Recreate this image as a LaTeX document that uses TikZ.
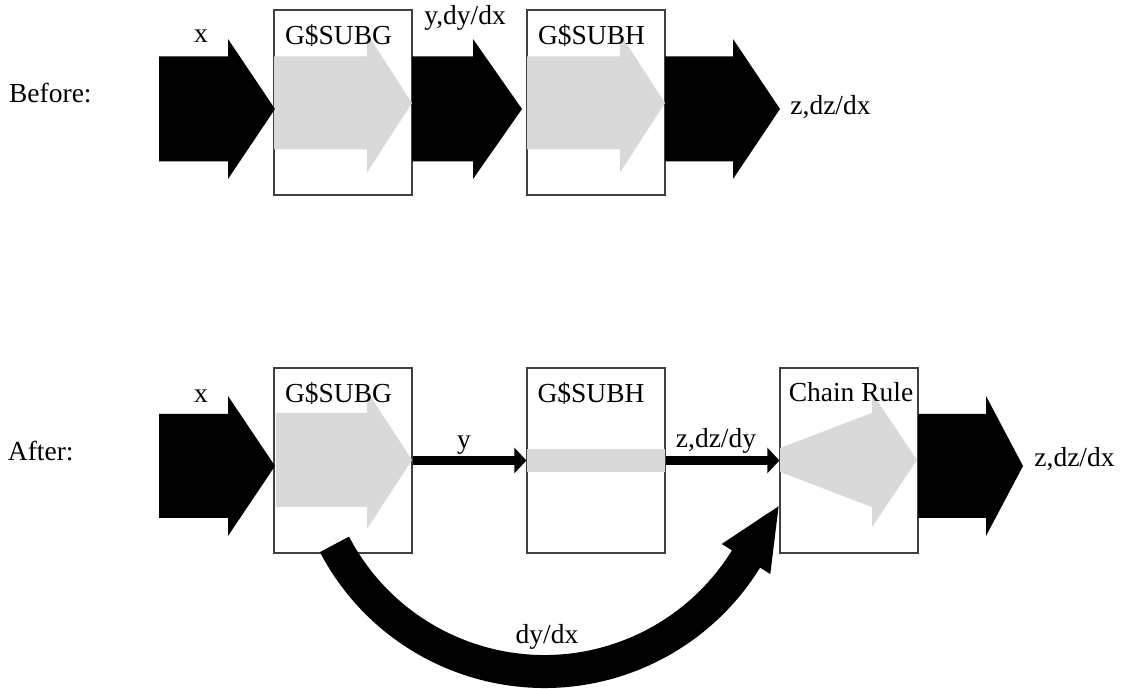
\documentclass[tikz,border=0pt]{standalone}
\usepackage{fontspec}
\setmainfont{Liberation Serif}
\usetikzlibrary{arrows.meta}
\definecolor{lgray}{RGB}{217,217,217}
\begin{document}
\begin{tikzpicture}[x=0.5pt,y=0.5pt,
  box/.style={draw=black!75, line width=0.6pt, fill=white, minimum width=69pt, minimum height=92.5pt, inner sep=0pt},
  lbl/.style={font=\fontsize{13.75}{16}\selectfont, inner sep=0pt, anchor=base},
  blk/.style={fill=black},
  gry/.style={fill=lgray},
  thinarr/.style={line width=4.5pt, -{Triangle[length=6pt,width=12.5pt]}},
  bigarc/.style={line width=16.5pt}
]
\useasboundingbox (0,0) rectangle (1127,689);

% boxes
\node[box] (g1) at (343,586.5) {};
\node[box] (h1) at (596,586.5) {};
\node[box] (g2) at (343,228.5) {};
\node[box] (h2) at (596,228.5) {};
\node[box] (c2) at (849,228.5) {};

% ---- Before row ----
\fill[gry] (274,632.5) -- (367,632.5) -- (367,655.5) -- (412,586) -- (367,516.5) -- (367,539.5) -- (274,539.5) -- cycle;
\fill[gry] (527,632.5) -- (620,632.5) -- (620,655.5) -- (665,586) -- (620,516.5) -- (620,539.5) -- (527,539.5) -- cycle;
\fill[blk] (159,632.5) -- (228,632.5) -- (228,650) -- (275,580) -- (228,510) -- (228,527.5) -- (159,527.5) -- cycle;
\fill[blk] (412,632.5) -- (473,632.5) -- (473,650) -- (522,580) -- (473,510) -- (473,527.5) -- (412,527.5) -- cycle;
\fill[blk] (665,632.5) -- (733,632.5) -- (733,650) -- (780,580) -- (733,510) -- (733,527.5) -- (665,527.5) -- cycle;

% ---- After row ----
\fill[gry] (276,276) -- (367,276) -- (367,298) -- (412,229) -- (367,160) -- (367,182) -- (276,182) -- cycle;
\fill[gry] (527,217) rectangle (665,240);
\fill[gry] (780,241) -- (872,276) -- (872,296) -- (917,229) -- (872,162) -- (872,182) -- (780,217) -- cycle;
\fill[blk] (159,275) -- (228,275) -- (228,293) -- (275,223) -- (228,153) -- (228,171) -- (159,171) -- cycle;
\fill[blk] (918,275) -- (986,275) -- (986,293) -- (1023,223) -- (986,153) -- (986,171) -- (918,171) -- cycle;

\draw[thinarr] (g2.east) -- (h2.west);
\draw[thinarr] (h2.east) -- (c2.west);

% curved dy/dx arrow
\coordinate (ac) at (544.4,254.4);
\draw[bigarc] ([shift={(ac)}]207.6:118.45pt) arc[start angle=207.6, end angle=328.6, radius=118.45pt];
\fill[blk] (770.3,115) -- (778.6,182.8) -- (721.7,145) -- cycle;

% labels
\node[lbl, anchor=base east] (before) at (92,586) {Before:};
\node[lbl] (lx1) at (201,646) {x};
\node[lbl] (lg1) at (338.5,644) {G\$SUBG};
\node[lbl] (ly1) at (465,664) {y,dy/dx};
\node[lbl] (lh1) at (591.5,644) {G\$SUBH};
\node[lbl, anchor=base west] (lz1) at (790,574) {z,dz/dx};

\node[lbl, anchor=base east] (after) at (74,228) {After:};
\node[lbl] (lx2) at (201,286) {x};
\node[lbl] (lg2) at (338.5,286) {G\$SUBG};
\node[lbl] (ly2) at (464,240) {y};
\node[lbl] (lh2) at (591,286) {G\$SUBH};
\node[lbl] (lzy) at (716,241) {z,dz/dy};
\node[lbl] (lc) at (851,287) {Chain Rule};
\node[lbl, anchor=base west] (lz2) at (1034,222) {z,dz/dx};
\node[lbl] (ldy) at (547,45) {dy/dx};
\end{tikzpicture}
\end{document}
